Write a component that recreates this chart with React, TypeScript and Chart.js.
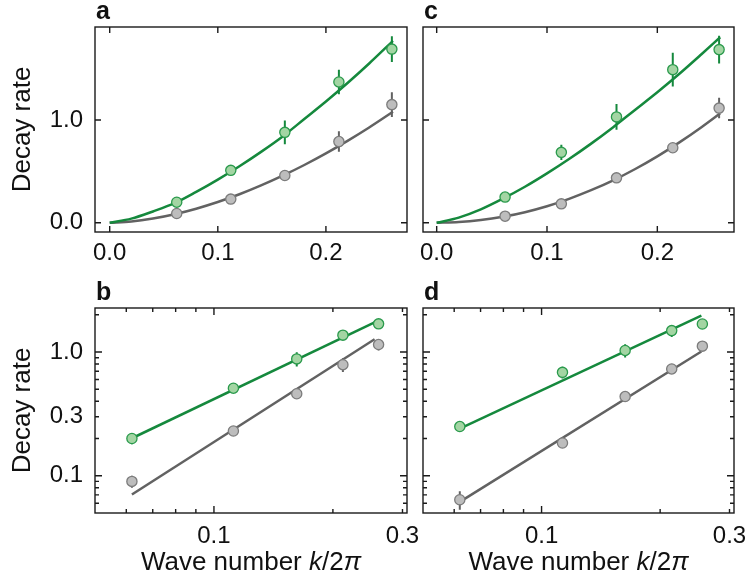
import { useEffect, useRef } from 'react';
import { Chart, registerables } from 'chart.js';
Chart.register(...registerables);

const FONT = "'Liberation Sans', Arial, Helvetica, sans-serif";

// ---- Measured points, panels a & b ----
const abK = [0.062, 0.112, 0.162, 0.212, 0.261];
const abGreen = [0.2, 0.51, 0.88, 1.37, 1.69];
const abGreenErr = [0.02, 0.025, 0.115, 0.12, 0.125];
const abGray = [0.09, 0.23, 0.46, 0.79, 1.15];
const abGrayErr = [0.01, 0.015, 0.02, 0.1, 0.12];

// ---- Measured points, panels c & d ----
const cdK = [0.062, 0.113, 0.163, 0.214, 0.256];
const cdGreen = [0.25, 0.685, 1.03, 1.49, 1.685];
const cdGreenErr = [0.02, 0.075, 0.125, 0.165, 0.135];
const cdGray = [0.064, 0.184, 0.437, 0.73, 1.116];
const cdGrayErr = [0.011, 0.01, 0.015, 0.02, 0.1];

// ---- Fit curves ----
const fitKa = [0, 0.02, 0.04, 0.06, 0.08, 0.1, 0.12, 0.14, 0.16, 0.18, 0.2, 0.22, 0.24, 0.262];
const fitGreenA = [0, 0.04, 0.11, 0.19, 0.3, 0.42, 0.55, 0.69, 0.84, 1.01, 1.18, 1.36, 1.55, 1.77];
const fitGrayA = [0, 0.012, 0.041, 0.083, 0.137, 0.202, 0.277, 0.363, 0.458, 0.562, 0.675, 0.797, 0.927, 1.08];
const fitKc = [0, 0.02, 0.04, 0.06, 0.08, 0.1, 0.12, 0.14, 0.16, 0.18, 0.2, 0.22, 0.24, 0.257];
const fitGreenC = [0, 0.05, 0.13, 0.234, 0.35, 0.48, 0.62, 0.77, 0.93, 1.1, 1.27, 1.45, 1.64, 1.805];
const fitGrayC = [0, 0.0065, 0.026, 0.058, 0.103, 0.161, 0.233, 0.317, 0.413, 0.523, 0.646, 0.782, 0.93, 1.065];

// ---- Fit lines on the log-log panels (end points) ----
const fitKb = [0.062, 0.255];
const fitGreenB = [0.201, 1.74];
const fitGrayB = [0.0706, 1.27];
const fitKd = [0.062, 0.2545];
const fitGreenD = [0.24, 1.97];
const fitGrayD = [0.0615, 1.01];

// ---- Ticks ----
const linXTicks = [0, 0.1, 0.2];
const linYTicks = [0, 1];
const logXTicks = [0.06, 0.07, 0.08, 0.09, 0.1, 0.2, 0.3];
const logXLabels = [0.1, 0.3];
const logYTicks = [0.06, 0.07, 0.08, 0.09, 0.1, 0.2, 0.3, 0.4, 0.5, 0.6, 0.7, 0.8, 0.9, 1, 2];
const logYLabels = [0.1, 0.3, 1];
const logMajor = [0.1, 1];

const GREEN_LINE = '#15893d';
const GREEN_FILL = '#a3d5a3';
const GREEN_EDGE = '#2a9a4c';
const GRAY_LINE = '#626262';
const GRAY_FILL = '#bdbdbd';
const GRAY_EDGE = '#7c7c7c';
const INK = '#111111';

type Area = { l: number; t: number; r: number; b: number };
type Panel = {
  letter: string;
  left: number;
  top: number;
  width: number;
  height: number;
  area: Area;
  log: boolean;
  yLabels: boolean;
  xTitle: boolean;
  xPad: number;
  xMin: number;
  xMax: number;
  yMin: number;
  yMax: number;
  k: number[];
  green: number[];
  greenErr: number[];
  gray: number[];
  grayErr: number[];
  fitK: number[];
  fitGreen: number[];
  fitGray: number[];
};

const panels: Panel[] = [
  {
    letter: 'a', left: 0, top: 0, width: 415, height: 275,
    area: { l: 95, t: 27, r: 407, b: 232 }, log: false, yLabels: true, xTitle: false, xPad: 6.5,
    xMin: -0.0136, xMax: 0.275, yMin: -0.09, yMax: 1.905,
    k: abK, green: abGreen, greenErr: abGreenErr, gray: abGray, grayErr: abGrayErr,
    fitK: fitKa, fitGreen: fitGreenA, fitGray: fitGrayA,
  },
  {
    letter: 'c', left: 415, top: 0, width: 333, height: 275,
    area: { l: 8, t: 27, r: 319, b: 232 }, log: false, yLabels: false, xTitle: false, xPad: 6.5,
    xMin: -0.0124, xMax: 0.2695, yMin: -0.09, yMax: 1.905,
    k: cdK, green: cdGreen, greenErr: cdGreenErr, gray: cdGray, grayErr: cdGrayErr,
    fitK: fitKc, fitGreen: fitGreenC, fitGray: fitGrayC,
  },
  {
    letter: 'b', left: 0, top: 275, width: 425, height: 308,
    area: { l: 95, t: 33, r: 407, b: 238 }, log: true, yLabels: true, xTitle: true, xPad: 9.3,
    xMin: 0.05, xMax: 0.308, yMin: 0.05, yMax: 2.27,
    k: abK, green: abGreen, greenErr: abGreenErr, gray: abGray, grayErr: abGrayErr,
    fitK: fitKb, fitGreen: fitGreenB, fitGray: fitGrayB,
  },
  {
    letter: 'd', left: 415, top: 275, width: 333, height: 308,
    area: { l: 8, t: 33, r: 319, b: 238 }, log: true, yLabels: false, xTitle: true, xPad: 9.3,
    xMin: 0.05, xMax: 0.308, yMin: 0.05, yMax: 2.27,
    k: cdK, green: cdGreen, greenErr: cdGreenErr, gray: cdGray, grayErr: cdGrayErr,
    fitK: fitKd, fitGreen: fitGreenD, fitGray: fitGrayD,
  },
];

const pts = (xs: number[], ys: number[]) => xs.map((x, i) => ({ x, y: ys[i] }));
const bars = (xs: number[], ys: number[], es: number[]) =>
  xs.flatMap((x, i) => [
    { x, y: ys[i] - es[i] },
    { x, y: ys[i] + es[i] },
    { x, y: null as any },
  ]);

function buildConfig(p: Panel): any {
  const xTicks = p.log ? logXTicks : linXTicks;
  const yTicks = p.log ? logYTicks : linYTicks;
  const xLab = p.log ? logXLabels : linXTicks;
  const yLab = p.log ? logYLabels : linYTicks;

  const framePlugin = {
    id: 'frame' + p.letter,
    afterDraw(chart: any) {
      const ctx = chart.ctx;
      const { left: l, top: t, right: r, bottom: b } = chart.chartArea;
      const xs = chart.scales.x;
      const ys = chart.scales.y;
      ctx.save();
      ctx.strokeStyle = '#1a1a1a';
      ctx.lineWidth = 1.4;
      ctx.strokeRect(l, t, r - l, b - t);
      ctx.beginPath();
      for (const tk of xs.ticks) {
        const px = xs.getPixelForValue(tk.value);
        const len = p.log ? (logMajor.includes(tk.value) ? 7 : 4) : 6;
        ctx.moveTo(px, b);
        ctx.lineTo(px, b - len);
        ctx.moveTo(px, t);
        ctx.lineTo(px, t + len);
      }
      for (const tk of ys.ticks) {
        const py = ys.getPixelForValue(tk.value);
        const len = p.log ? (logMajor.includes(tk.value) ? 7 : 4) : 6;
        ctx.moveTo(l, py);
        ctx.lineTo(l + len, py);
        ctx.moveTo(r, py);
        ctx.lineTo(r - len, py);
      }
      ctx.stroke();

      // panel letter
      ctx.fillStyle = INK;
      ctx.textBaseline = 'alphabetic';
      ctx.textAlign = 'left';
      ctx.font = `bold 25px ${FONT}`;
      ctx.fillText(p.letter, l + 1, t - 8);

      // x axis title with italic k and pi
      if (p.xTitle) {
        const parts: [string, boolean][] = [
          ['Wave number ', false],
          ['k', true],
          ['/2', false],
          ['π', true],
        ];
        const fontOf = (it: boolean) => `${it ? 'italic ' : ''}26px ${FONT}`;
        let total = 0;
        const widths = parts.map(([s, it]) => {
          ctx.font = fontOf(it);
          const w = ctx.measureText(s).width;
          total += w;
          return w;
        });
        let x = (l + r) / 2 - total / 2;
        const y = b + 57;
        parts.forEach(([s, it], i) => {
          ctx.font = fontOf(it);
          ctx.fillText(s, x, y);
          x += widths[i];
        });
      }
      ctx.restore();
    },
  };

  return {
    type: 'line',
    data: {
      datasets: [
        {
          label: 'green points',
          data: pts(p.k, p.green),
          showLine: false,
          pointRadius: 5.1,
          pointBackgroundColor: GREEN_FILL,
          pointBorderColor: GREEN_EDGE,
          pointBorderWidth: 1.3,
        },
        {
          label: 'gray points',
          data: pts(p.k, p.gray),
          showLine: false,
          pointRadius: 5.1,
          pointBackgroundColor: GRAY_FILL,
          pointBorderColor: GRAY_EDGE,
          pointBorderWidth: 1.3,
        },
        {
          label: 'green error',
          data: bars(p.k, p.green, p.greenErr),
          borderColor: GREEN_LINE,
          borderWidth: 2,
          pointRadius: 0,
          spanGaps: false,
        },
        {
          label: 'gray error',
          data: bars(p.k, p.gray, p.grayErr),
          borderColor: GRAY_LINE,
          borderWidth: 2,
          pointRadius: 0,
          spanGaps: false,
        },
        {
          label: 'green fit',
          data: pts(p.fitK, p.fitGreen),
          borderColor: GREEN_LINE,
          borderWidth: 2.5,
          pointRadius: 0,
          cubicInterpolationMode: 'monotone',
        },
        {
          label: 'gray fit',
          data: pts(p.fitK, p.fitGray),
          borderColor: GRAY_LINE,
          borderWidth: 2.5,
          pointRadius: 0,
          cubicInterpolationMode: 'monotone',
        },
      ],
    },
    options: {
      animation: false,
      responsive: false,
      devicePixelRatio: 1,
      events: [],
      layout: {
        padding: { left: 0, top: p.area.t, right: p.width - p.area.r, bottom: 0 },
      },
      plugins: {
        legend: { display: false },
        tooltip: { enabled: false },
        title: { display: false },
      },
      scales: {
        x: {
          type: p.log ? 'logarithmic' : 'linear',
          position: 'bottom',
          min: p.xMin,
          max: p.xMax,
          grid: { display: false, drawTicks: false },
          border: { display: false },
          ticks: {
            padding: p.xPad,
            autoSkip: false,
            maxRotation: 0,
            minRotation: 0,
            color: INK,
            font: { family: FONT, size: 24 },
            callback: (v: number) => (xLab.includes(v) ? Number(v).toFixed(1) : ''),
          },
          afterBuildTicks: (s: any) => {
            s.ticks = xTicks.map((v) => ({ value: v }));
          },
          afterFit: (s: any) => {
            s.height = p.height - p.area.b;
            s.paddingLeft = 0;
            s.paddingRight = 0;
          },
        },
        y: {
          type: p.log ? 'logarithmic' : 'linear',
          position: 'left',
          min: p.yMin,
          max: p.yMax,
          grid: { display: false, drawTicks: false },
          border: { display: false },
          title: {
            display: p.yLabels,
            text: 'Decay rate',
            color: INK,
            font: { family: FONT, size: 26 },
            padding: { top: 7, bottom: 0 },
          },
          ticks: {
            display: p.yLabels,
            padding: 12,
            autoSkip: false,
            color: INK,
            font: { family: FONT, size: 24 },
            callback: (v: number) => (yLab.includes(v) ? Number(v).toFixed(1) : ''),
          },
          afterBuildTicks: (s: any) => {
            s.ticks = yTicks.map((v) => ({ value: v }));
          },
          afterFit: (s: any) => {
            s.width = p.area.l;
            s.paddingTop = 0;
            s.paddingBottom = 0;
          },
        },
      },
    },
    plugins: [framePlugin],
  };
}

function PanelChart({ p }: { p: Panel }) {
  const ref = useRef<HTMLCanvasElement>(null);
  useEffect(() => {
    if (!ref.current) return;
    const chart = new Chart(ref.current, buildConfig(p));
    return () => chart.destroy();
  }, [p]);
  return (
    <canvas
      ref={ref}
      width={p.width}
      height={p.height}
      style={{ position: 'absolute', left: p.left, top: p.top, width: p.width, height: p.height }}
    />
  );
}

export default function App() {
  return (
    <div
      style={{
        position: 'absolute',
        left: 0,
        top: 0,
        width: 748,
        height: 583,
        background: '#ffffff',
        overflow: 'hidden',
      }}
    >
      {panels.map((p) => (
        <PanelChart key={p.letter} p={p} />
      ))}
    </div>
  );
}
